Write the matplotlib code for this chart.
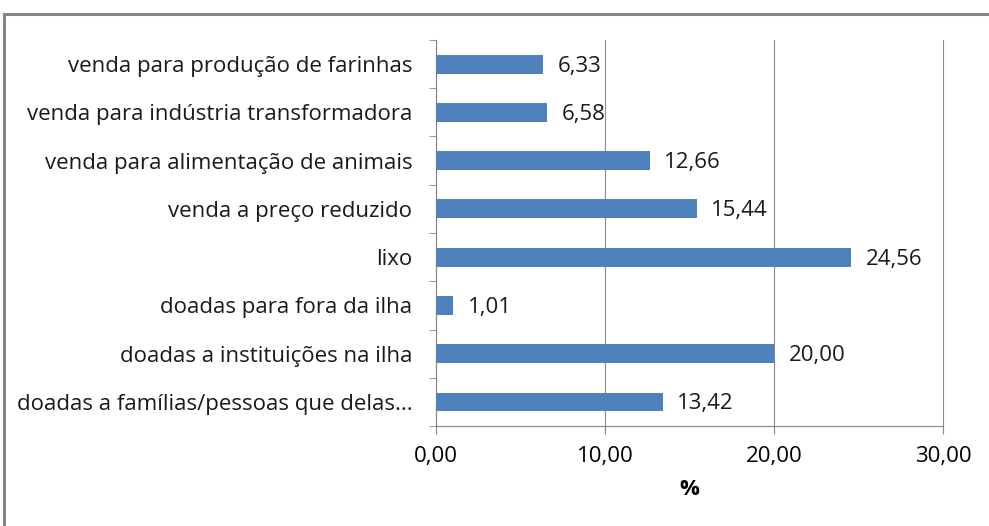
import matplotlib.pyplot as plt
from matplotlib.patches import Rectangle

# Data (top to bottom as shown)
categories = [
    "venda para produção de farinhas",
    "venda para indústria transformadora",
    "venda para alimentação de animais",
    "venda a preço reduzido",
    "lixo",
    "doadas para fora da ilha",
    "doadas a instituições na ilha",
    "doadas a famílias/pessoas que delas...",
]
values = [6.33, 6.58, 12.66, 15.44, 24.56, 1.01, 20.00, 13.42]
xticks = [0, 10, 20, 30]

plt.rcParams['font.family'] = ['Open Sans', 'DejaVu Sans']
fs = 16

fig = plt.figure(figsize=(9.89, 5.26), dpi=100)
ax = fig.add_axes([0.4409, 0.190, 0.5126, 0.734])

# outer chart border (only top and left visible)
fig.patches.append(Rectangle((4 / 989, -0.1), 1.2, (526 - 14) / 526 + 0.1,
                             transform=fig.transFigure, fill=False,
                             edgecolor='#878787', linewidth=2.2))

ypos = list(range(len(categories)))[::-1]
ax.barh(ypos, values, height=0.39, color='#4F81BD', zorder=3)

for y, v in zip(ypos, values):
    ax.text(v + 0.85, y - 0.04, f"{v:.2f}".replace('.', ','), va='center',
            ha='left', fontsize=fs, color='#1a1a1a')

ax.set_xlim(0, 30)
ax.set_ylim(-0.5, len(categories) - 0.5)
ax.set_xticks(xticks)
ax.set_xticklabels([f"{t:.2f}".replace('.', ',') for t in xticks], fontsize=fs)
ax.set_yticks(ypos)
ax.set_yticklabels(categories, fontsize=fs, color='#1a1a1a')
ax.set_yticks([i - 0.5 for i in range(len(categories) + 1)], minor=True)
ax.tick_params(axis='y', which='major', length=0, pad=17)
ax.tick_params(axis='y', which='minor', length=5, color='#868686')
ax.tick_params(axis='x', length=6, color='#868686', pad=8, direction='out')
ax.set_xlabel('%', fontsize=fs, fontweight='bold', labelpad=9)

ax.grid(axis='x', color='#8c8c8c', linewidth=0.8, zorder=0)
for line in ax.get_xgridlines():
    line.set_clip_on(False)
for s in ['top', 'right']:
    ax.spines[s].set_visible(False)
for s in ['left', 'bottom']:
    ax.spines[s].set_color('#868686')
    ax.spines[s].set_linewidth(0.8)

fig.savefig('out.png', dpi=100)
